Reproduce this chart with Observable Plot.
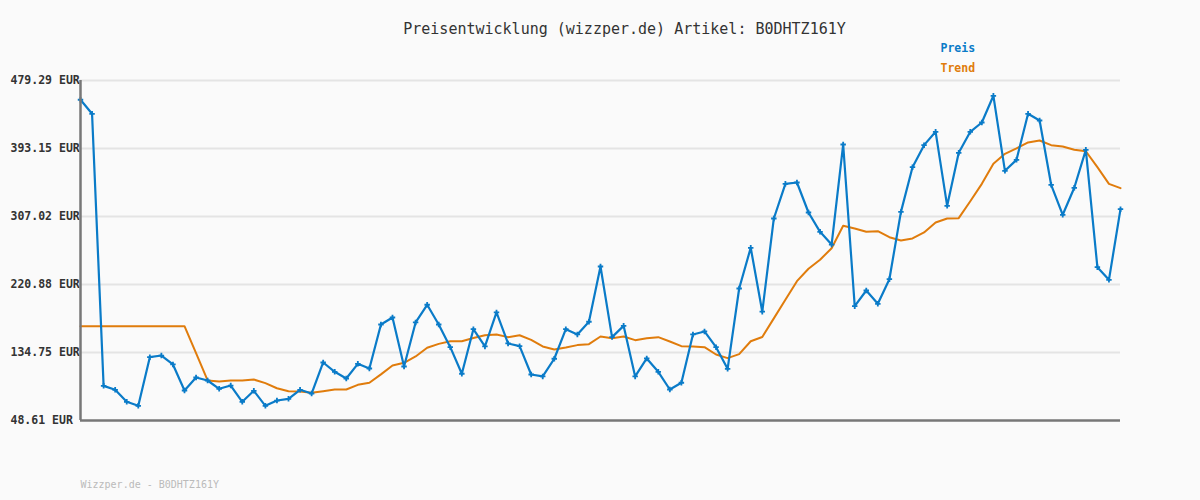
<!DOCTYPE html>
<html>
<head>
<meta charset="utf-8">
<script src="https://cdn.jsdelivr.net/npm/d3@7"></script>
<script src="https://cdn.jsdelivr.net/npm/@observablehq/plot@0.6"></script>
<style>
  html, body { margin: 0; padding: 0; background: #fafafa; }
</style>
</head>
<body>
<div id="chart"></div>
<script>
const title = "Preisentwicklung (wizzper.de) Artikel: B0DHTZ161Y";
const footer = "Wizzper.de - B0DHTZ161Y";
const seriesNames = ["Preis", "Trend"];
const yTicks = [48.61, 134.75, 220.88, 307.02, 393.15, 479.29];

const preis = [
  454.9, 437.1, 92.5, 87.5, 72.3, 67.2, 128.8, 130.9, 119.6, 86.6,
  103.1, 99.3, 88.8, 92.9, 72.3, 86.2, 67.2, 73.9, 76.1, 87.5,
  82.8, 122.1, 110.3, 101.8, 120.4, 114.5, 170.2, 179.1, 117.0, 172.8,
  195.2, 170.2, 141.5, 107.8, 164.3, 142.4, 185.5, 146.2, 142.8, 106.9,
  104.4, 126.8, 164.3, 157.6, 173.7, 243.7, 154.2, 168.5, 104.4, 127.2,
  110.3, 87.9, 96.4, 157.6, 161.4, 141.5, 114.1, 215.8, 267.4, 186.4,
  304.5, 348.4, 350.1, 312.1, 287.6, 271.5, 398.2, 193.4, 213.3, 196.4,
  227.6, 312.9, 369.5, 397.4, 414.3, 320.5, 387.7, 414.3, 426.1, 459.9,
  364.9, 378.8, 437.1, 428.6, 347.2, 309.2, 343.4, 391.5, 242.8, 226.8,
  316.3
];

const trend = [
  168.1, 168.1, 168.1, 168.1, 168.1, 168.1, 168.1, 168.1, 168.1, 168.1,
  134.0, 99.3, 98.0, 99.3, 99.3, 100.5, 95.9, 89.5, 85.7, 85.4,
  83.7, 85.7, 87.9, 87.9, 93.8, 96.4, 107.0, 118.3, 121.7, 129.7,
  140.7, 145.7, 149.0, 149.0, 153.2, 156.6, 157.5, 154.2, 156.6, 150.7,
  142.4, 138.6, 141.1, 144.1, 145.3, 155.0, 152.9, 155.0, 150.4, 152.9,
  154.2, 148.7, 142.8, 142.4, 141.5, 132.2, 127.6, 132.7, 149.0, 154.4,
  178.0, 201.5, 225.1, 240.8, 252.2, 266.9, 295.3, 291.9, 287.6, 288.4,
  280.8, 276.6, 279.2, 286.8, 299.4, 304.5, 304.9, 326.4, 348.4, 373.8,
  386.4, 393.2, 400.8, 403.3, 397.4, 395.7, 391.5, 389.7, 369.5, 348.4,
  342.9
];

const blue = "#0a7bc8";
const orange = "#e07c0c";
const mono = "DejaVu Sans Mono, monospace";

const preisData = preis.map((v, i) => ({i, v}));
const trendData = trend.map((v, i) => ({i, v}));

const chart = Plot.plot({
  width: 1200,
  height: 500,
  marginTop: 80,
  marginBottom: 80,
  marginLeft: 80,
  marginRight: 80,
  style: {background: "#fafafa", overflow: "visible"},
  x: {domain: [0, preis.length - 1], axis: null},
  y: {domain: [yTicks[0], yTicks[yTicks.length - 1]], axis: null},
  marks: [
    Plot.ruleY(yTicks.slice(1), {stroke: "#e4e4e4", strokeWidth: 2}),
    Plot.text(yTicks, {
      y: d => d,
      text: d => d.toFixed(2) + " EUR",
      frameAnchor: "left",
      dx: -70,
      textAnchor: "start",
      fontFamily: mono,
      fontSize: 11.5,
      fontWeight: "bold",
      fill: "#333"
    }),
    Plot.line(trendData, {x: "i", y: "v", stroke: orange, strokeWidth: 2}),
    Plot.line(preisData, {x: "i", y: "v", stroke: blue, strokeWidth: 2.2}),
    Plot.dot(preisData, {x: "i", y: "v", symbol: "plus", r: 1.9, stroke: blue, strokeWidth: 1.8}),
    Plot.ruleY([yTicks[0]], {stroke: "#777", strokeWidth: 2.5}),
    Plot.ruleX([0], {stroke: "#777", strokeWidth: 2.5}),
    Plot.text([title], {
      frameAnchor: "top",
      dx: 24,
      dy: -57,
      fontFamily: mono,
      fontSize: 15,
      fill: "#333"
    }),
    Plot.text([seriesNames[0]], {
      frameAnchor: "top-right",
      dx: -180,
      dy: -37,
      textAnchor: "start",
      fontFamily: mono,
      fontSize: 11.5,
      fontWeight: "bold",
      fill: blue
    }),
    Plot.text([seriesNames[1]], {
      frameAnchor: "top-right",
      dx: -180,
      dy: -17,
      textAnchor: "start",
      fontFamily: mono,
      fontSize: 11.5,
      fontWeight: "bold",
      fill: orange
    }),
    Plot.text([footer], {
      frameAnchor: "bottom-left",
      dy: 67,
      textAnchor: "start",
      fontFamily: mono,
      fontSize: 10,
      fill: "#bbbbbb"
    })
  ]
});

document.getElementById("chart").appendChild(chart);
</script>
</body>
</html>
